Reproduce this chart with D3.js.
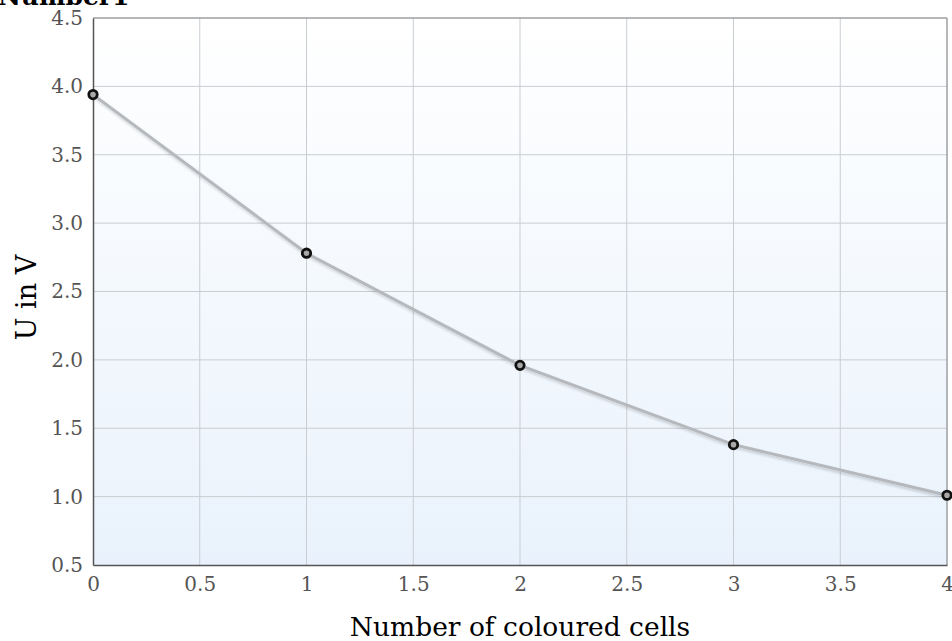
<!DOCTYPE html>
<html>
<head>
<meta charset="utf-8">
<script src="https://cdn.jsdelivr.net/npm/d3@7"></script>
<style>
  body { margin: 0; background: #fff; overflow: hidden; }
  svg { display: block; font-family: "DejaVu Serif", serif; }
</style>
</head>
<body>
<div id="chart"></div>
<script>
// data
var cells = [0, 1, 2, 3, 4];
var voltage = [3.94, 2.78, 1.96, 1.38, 1.01];
var xTicks = [0, 0.5, 1, 1.5, 2, 2.5, 3, 3.5, 4];
var yTicks = [0.5, 1.0, 1.5, 2.0, 2.5, 3.0, 3.5, 4.0, 4.5];

var width = 952, height = 641;
var margin = {left: 93, right: 5, top: 18, bottom: 76};

var svg = d3.select("#chart").append("svg")
    .attr("width", width)
    .attr("height", height);

var x = d3.scaleLinear().domain([0, 4]).range([margin.left, width - margin.right]);
var y = d3.scaleLinear().domain([0.5, 4.5]).range([height - margin.bottom, margin.top]);

var defs = svg.append("defs");
var grad = defs.append("linearGradient").attr("id", "bg")
    .attr("x1", 0).attr("y1", 0).attr("x2", 0).attr("y2", 1);
grad.append("stop").attr("offset", "0%").attr("stop-color", "#ffffff");
grad.append("stop").attr("offset", "100%").attr("stop-color", "#e9f2fc");

var shadow = defs.append("filter").attr("id", "shadow")
    .attr("x", "-10%").attr("y", "-10%").attr("width", "120%").attr("height", "120%");
shadow.append("feGaussianBlur").attr("in", "SourceAlpha").attr("stdDeviation", 1.5);
shadow.append("feOffset").attr("dx", 1).attr("dy", 1.5).attr("result", "b");
shadow.append("feComponentTransfer").append("feFuncA").attr("type", "linear").attr("slope", 0.2);
var m = shadow.append("feMerge");
m.append("feMergeNode");
m.append("feMergeNode").attr("in", "SourceGraphic");

// plot background
svg.append("rect")
    .attr("x", x(0)).attr("y", y(4.5))
    .attr("width", x(4) - x(0)).attr("height", y(0.5) - y(4.5))
    .attr("fill", "url(#bg)");

// grid
svg.append("g").selectAll("line").data(xTicks.slice(1)).enter().append("line")
    .attr("x1", d => x(d)).attr("x2", d => x(d))
    .attr("y1", y(4.5)).attr("y2", y(0.5))
    .attr("stroke", "#c9cdd2").attr("stroke-width", 1);
svg.append("g").selectAll("line").data(yTicks.slice(1)).enter().append("line")
    .attr("x1", x(0)).attr("x2", x(4))
    .attr("y1", d => y(d)).attr("y2", d => y(d))
    .attr("stroke", "#c9cdd2").attr("stroke-width", 1);

// frame
svg.append("line").attr("x1", x(0)).attr("x2", x(4)).attr("y1", y(4.5)).attr("y2", y(4.5))
    .attr("stroke", "#888").attr("stroke-width", 1);
svg.append("line").attr("x1", x(4)).attr("x2", x(4)).attr("y1", y(4.5)).attr("y2", y(0.5))
    .attr("stroke", "#888").attr("stroke-width", 1);

// axes
var xAxis = svg.append("g").attr("transform", "translate(0," + y(0.5) + ")")
    .call(d3.axisBottom(x).tickValues(xTicks).tickSize(0).tickPadding(12).tickFormat(d3.format("")));
var yAxis = svg.append("g").attr("transform", "translate(" + x(0) + ",0)")
    .call(d3.axisLeft(y).tickValues(yTicks).tickSize(0).tickPadding(10).tickFormat(d3.format(".1f")));
[xAxis, yAxis].forEach(function (a) {
    a.select(".domain").attr("stroke", "#555").attr("stroke-width", 1.5);
    a.selectAll("text").attr("fill", "#555").style("font-size", "20px")
        .style("font-family", "DejaVu Serif, serif");
});

// line
var pts = cells.map((c, i) => [c, voltage[i]]);
svg.append("path")
    .datum(pts)
    .attr("fill", "none")
    .attr("stroke", "#b5b8bc")
    .attr("stroke-width", 3)
    .attr("filter", "url(#shadow)")
    .attr("d", d3.line().x(d => x(d[0])).y(d => y(d[1])));

svg.append("g").selectAll("circle").data(pts).enter().append("circle")
    .attr("cx", d => x(d[0])).attr("cy", d => y(d[1]))
    .attr("r", 4.2)
    .attr("fill", "#a8a8a8")
    .attr("stroke", "#111")
    .attr("stroke-width", 2.8);

// titles
svg.append("text").attr("x", -2).attr("y", 5)
    .style("font-size", "25px").style("font-weight", "bold").attr("fill", "#000")
    .text("Number1");
svg.append("text").attr("x", (x(0) + x(4)) / 2).attr("y", 636)
    .attr("text-anchor", "middle").style("font-size", "26.5px").attr("fill", "#000")
    .text("Number of coloured cells");
svg.append("text")
    .attr("transform", "translate(36," + (y(2.5) + 6) + ") rotate(-90)")
    .attr("text-anchor", "middle").style("font-size", "27px").attr("fill", "#000")
    .text("U in V");
</script>
</body>
</html>
